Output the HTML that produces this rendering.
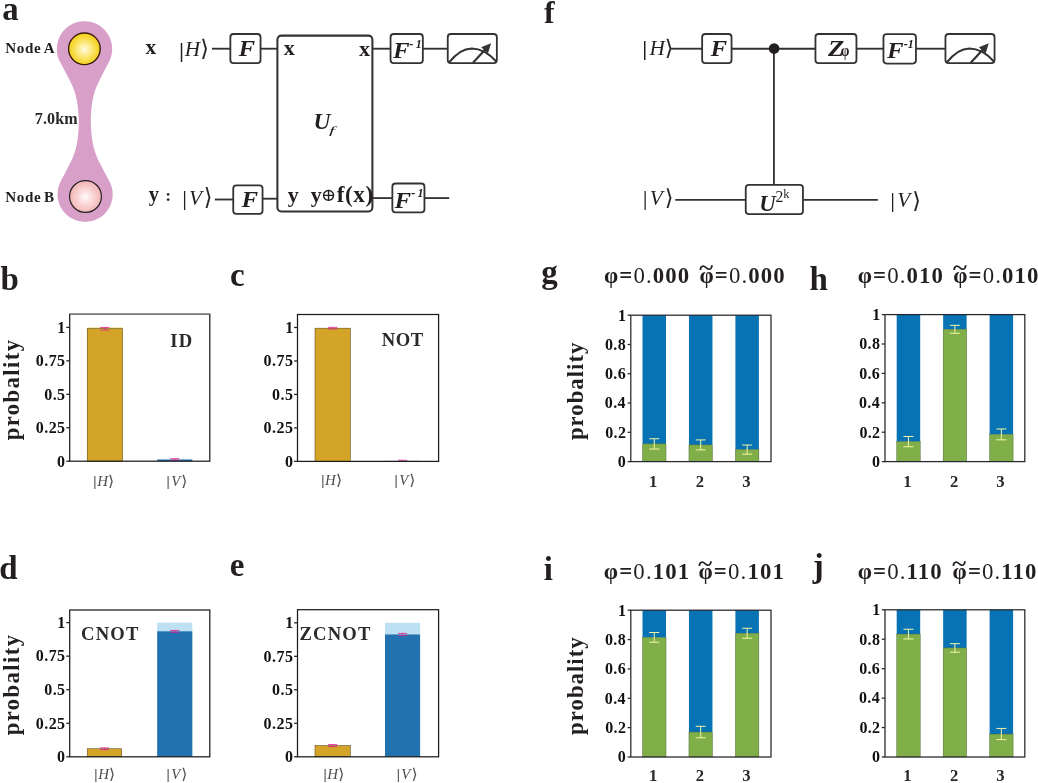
<!DOCTYPE html>
<html lang="en">
<head>
<meta charset="utf-8">
<title>Figure</title>
<style>
html,body{margin:0;padding:0;background:#fff;}
body{width:1038px;height:783px;overflow:hidden;}
svg{display:block;}
svg text{font-family:"Liberation Serif", "DejaVu Serif", serif;}
</style>
</head>
<body>
<svg width="1038" height="783" viewBox="0 0 1038 783">
<rect width="1038" height="783" fill="#fff"/>
<g id="panel-a">
<text font-size="32.8" font-weight="bold" x="2.34" y="19.6" fill="#231f20">a</text>
<defs><radialGradient id="gy" cx="0.5" cy="0.52" r="0.5"><stop offset="0" stop-color="#fffbe2"/><stop offset="0.35" stop-color="#fdee94"/><stop offset="0.8" stop-color="#f7d936"/><stop offset="1" stop-color="#f3cf22"/></radialGradient><radialGradient id="gp" cx="0.5" cy="0.52" r="0.5"><stop offset="0" stop-color="#fffafa"/><stop offset="0.4" stop-color="#fbdcdc"/><stop offset="1" stop-color="#f3b4b6"/></radialGradient></defs>
<path d="M59.1,60.0 A27.7,27.7 0 1 1 109.9,60.0 C109.6,60.7 108.7,62.5 108.0,64.0 C107.2,65.5 106.5,66.6 105.3,68.9 C104.1,71.2 102.2,74.9 100.7,77.9 C99.2,80.9 97.7,83.8 96.5,86.8 C95.3,89.8 94.4,92.7 93.6,95.7 C92.8,98.7 92.3,101.7 91.9,104.7 C91.5,107.7 91.3,110.8 91.1,113.6 C90.9,116.4 90.8,119.0 90.8,121.8 C90.8,124.5 91.0,127.1 91.2,129.9 C91.4,132.7 91.6,135.8 92.1,138.8 C92.5,141.8 93.0,144.8 93.8,147.8 C94.6,150.8 95.6,153.7 96.8,156.7 C98.0,159.7 99.6,162.6 101.1,165.6 C102.6,168.6 104.5,172.3 105.8,174.6 C107.0,176.9 107.7,178.0 108.4,179.5 C109.2,181.0 110.1,182.8 110.5,183.5 A27.6,27.6 0 1 1 59.7,183.5 C60.0,182.8 60.9,181.0 61.6,179.5 C62.4,178.0 63.1,176.9 64.3,174.6 C65.5,172.3 67.4,168.6 68.9,165.6 C70.4,162.6 71.9,159.7 73.1,156.7 C74.3,153.7 75.2,150.8 76.0,147.8 C76.8,144.8 77.3,141.8 77.7,138.8 C78.1,135.8 78.3,132.7 78.5,129.9 C78.7,127.1 78.8,124.5 78.8,121.8 C78.8,119.0 78.6,116.4 78.4,113.6 C78.2,110.8 78.0,107.7 77.5,104.7 C77.1,101.7 76.6,98.7 75.8,95.7 C75.0,92.7 74.0,89.8 72.8,86.8 C71.6,83.8 70.0,80.9 68.5,77.9 C67.0,74.9 65.1,71.2 63.8,68.9 C62.6,66.6 61.9,65.5 61.2,64.0 C60.4,62.5 59.5,60.7 59.1,60.0 Z" fill="#d8a0c8"/>
<circle cx="84.4" cy="48.8" r="15.8" fill="url(#gy)" stroke="#3a1d0a" stroke-width="1.4"/>
<circle cx="85.5" cy="196.5" r="15.9" fill="url(#gp)" stroke="#231f20" stroke-width="1.2"/>
<text font-size="15.1" font-weight="bold" x="5.21" y="53.3" fill="#231f20"><tspan letter-spacing="0.64">Node </tspan><tspan x="43.75">A</tspan></text>
<text font-size="15.1" font-weight="bold" x="5.21" y="202.1" fill="#231f20"><tspan letter-spacing="0.64">Node </tspan><tspan x="43.95">B</tspan></text>
<text font-size="16" font-weight="bold" letter-spacing="0.14" x="34.79" y="123.8" fill="#2a2627">7.0km</text>
<text font-size="21.3" font-weight="bold" x="145.42" y="53.5" fill="#231f20">x</text>
<text font-size="20.5" font-weight="bold" x="148.7" y="200.5" fill="#231f20">y</text>
<text font-size="17.5" font-weight="bold" x="165.16" y="201.2" fill="#231f20">:</text>
<g>
<text font-size="21.99" font-weight="normal" transform="translate(178.44,57.05) scale(1.37,1)" fill="#231f20">|</text>
<text font-size="21.3" font-weight="normal" font-style="italic" x="184.63" y="56.4" fill="#231f20">H</text>
<text font-size="22.51" font-weight="normal" font-family='"DejaVu Math TeX Gyre", "DejaVu Serif", serif' stroke="#231f20" stroke-width="0.15" transform="translate(200.58,55.79) scale(0.94,1)" fill="#231f20">⟩</text>
</g>
<g>
<text font-size="21.55" font-weight="normal" transform="translate(182.04,204.65) scale(1.21,1)" fill="#231f20">|</text>
<text font-size="21.3" font-weight="normal" font-style="italic" x="189.09" y="204.7" fill="#231f20">V</text>
<text font-size="23.58" font-weight="normal" font-family='"DejaVu Math TeX Gyre", "DejaVu Serif", serif' stroke="#231f20" stroke-width="0.15" transform="translate(203.88,205.23) scale(0.89,1)" fill="#231f20">⟩</text>
</g>
<line x1="211.9" y1="48.7" x2="230" y2="48.7" stroke="#333132" stroke-width="1.85"/>
<line x1="261" y1="48.7" x2="278" y2="48.7" stroke="#333132" stroke-width="1.85"/>
<line x1="372" y1="48.7" x2="390.5" y2="48.7" stroke="#333132" stroke-width="1.85"/>
<line x1="423" y1="48.7" x2="447.5" y2="48.7" stroke="#333132" stroke-width="1.85"/>
<line x1="214.8" y1="199.5" x2="233" y2="199.5" stroke="#333132" stroke-width="1.85"/>
<line x1="263" y1="198.7" x2="278" y2="198.7" stroke="#333132" stroke-width="1.85"/>
<line x1="372.5" y1="198.1" x2="392" y2="198.1" stroke="#333132" stroke-width="1.85"/>
<line x1="424.5" y1="198.1" x2="449.2" y2="198.1" stroke="#333132" stroke-width="1.85"/>
<rect x="230.35" y="34" width="30.2" height="29.15" rx="3.2" ry="3.2" fill="#fff" stroke="#333132" stroke-width="1.8"/>
<text font-size="22.2" font-weight="bold" font-style="italic" transform="translate(238.62,56) scale(1.12,1)" fill="#231f20">F</text>
<rect x="233.25" y="185.4" width="29.3" height="28.55" rx="3.2" ry="3.2" fill="#fff" stroke="#333132" stroke-width="1.8"/>
<text font-size="22.2" font-weight="bold" font-style="italic" transform="translate(241.42,206.8) scale(1.12,1)" fill="#231f20">F</text>
<rect x="277.4" y="35.6" width="95.0" height="175.9" rx="4" ry="4" fill="#fff" stroke="#333132" stroke-width="2.05"/>
<rect x="390.55" y="34" width="32.3" height="29.15" rx="3.2" ry="3.2" fill="#fff" stroke="#333132" stroke-width="1.8"/>
<text font-size="22.2" font-weight="bold" font-style="italic" transform="translate(393.12,57.5) scale(1.12,1)" fill="#231f20">F</text>
<text font-size="12" font-weight="bold" font-style="italic" letter-spacing="2.47" x="409.35" y="47.6" fill="#231f20">-1</text>
<rect x="392.35" y="183.5" width="32.1" height="28.95" rx="3.2" ry="3.2" fill="#fff" stroke="#333132" stroke-width="1.8"/>
<text font-size="22.2" font-weight="bold" font-style="italic" transform="translate(394.52,207.8) scale(1.12,1)" fill="#231f20">F</text>
<text font-size="12" font-weight="bold" font-style="italic" letter-spacing="2.47" x="411.15" y="197.4" fill="#231f20">-1</text>
<g>
<rect x="447.75" y="34" width="49.1" height="29.15" rx="3.2" ry="3.2" fill="#fff" stroke="#333132" stroke-width="1.8"/>
<path d="M449,62.7 Q459.73,48.66 471.75,48.5 Q484.77,48.66 496.5,61.7" fill="none" stroke="#333132" stroke-width="2.1"/>
<line x1="473" y1="62.7" x2="485.25" y2="49.54" stroke="#333132" stroke-width="2.1"/>
<polygon points="491.04,43.32 487.93,53.41 481.2,47.14" fill="#333132"/>
</g>
<text font-size="22" font-weight="bold" x="283.81" y="55.1" fill="#231f20">x</text>
<text font-size="22" font-weight="bold" x="359.11" y="55.9" fill="#231f20">x</text>
<text font-size="22" font-weight="bold" x="287.79" y="202" fill="#231f20">y</text>
<text font-size="22" font-weight="bold" x="310.79" y="202" fill="#231f20">y</text>
<text font-size="18.08" font-weight="normal" font-family='"DejaVu Math TeX Gyre", "DejaVu Serif", serif' transform="translate(321.05,200.62) scale(1,1)" fill="#231f20">⊕</text>
<text font-size="23.2" font-weight="bold" letter-spacing="0.6" x="336.73" y="202.1" fill="#231f20">f(x)</text>
<text font-size="23.04" font-weight="bold" font-style="italic" transform="translate(313.38,129.09) scale(1.02,1)" fill="#231f20">U</text>
<text font-size="11.34" font-weight="normal" font-style="italic" transform="translate(328.96,133.69) scale(1.85,1)" fill="#231f20">f</text>
</g>
<g id="panel-f">
<text font-size="31.8" font-weight="bold" x="543.97" y="22.6" fill="#231f20">f</text>
<g>
<text font-size="21.44" font-weight="normal" transform="translate(641.84,54.77) scale(1.4,1)" fill="#231f20">|</text>
<text font-size="21.3" font-weight="normal" font-style="italic" x="649.53" y="54.7" fill="#231f20">H</text>
<text font-size="21.45" font-weight="normal" font-family='"DejaVu Math TeX Gyre", "DejaVu Serif", serif' stroke="#231f20" stroke-width="0.15" transform="translate(664.88,55.25) scale(0.98,1)" fill="#231f20">⟩</text>
</g>
<g>
<text font-size="21.99" font-weight="normal" transform="translate(642.44,205.05) scale(1.19,1)" fill="#231f20">|</text>
<text font-size="21.3" font-weight="normal" font-style="italic" x="649.69" y="205" fill="#231f20">V</text>
<text font-size="22.16" font-weight="normal" font-family='"DejaVu Math TeX Gyre", "DejaVu Serif", serif' stroke="#231f20" stroke-width="0.15" transform="translate(664.88,205.44) scale(0.95,1)" fill="#231f20">⟩</text>
</g>
<g>
<text font-size="21.77" font-weight="normal" transform="translate(890.04,206.9) scale(1.2,1)" fill="#231f20">|</text>
<text font-size="21.3" font-weight="normal" font-style="italic" x="897.29" y="207" fill="#231f20">V</text>
<text font-size="22.27" font-weight="normal" font-family='"DejaVu Math TeX Gyre", "DejaVu Serif", serif' stroke="#231f20" stroke-width="0.15" transform="translate(912.38,207.63) scale(0.95,1)" fill="#231f20">⟩</text>
</g>
<line x1="670.3" y1="48.7" x2="702" y2="48.7" stroke="#333132" stroke-width="1.85"/>
<line x1="732" y1="48.7" x2="815" y2="48.7" stroke="#333132" stroke-width="1.85"/>
<line x1="856.9" y1="48.7" x2="883.5" y2="48.7" stroke="#333132" stroke-width="1.85"/>
<line x1="916.4" y1="48.7" x2="945" y2="48.7" stroke="#333132" stroke-width="1.85"/>
<line x1="773.9" y1="48.2" x2="773.9" y2="185" stroke="#333132" stroke-width="1.85"/>
<line x1="675.3" y1="199.9" x2="745.5" y2="199.9" stroke="#333132" stroke-width="1.85"/>
<line x1="803.4" y1="199.9" x2="877.9" y2="199.9" stroke="#333132" stroke-width="1.85"/>
<circle cx="774.1" cy="48.6" r="5.3" fill="#231f20"/>
<rect x="702.15" y="34" width="29.4" height="29.15" rx="3.2" ry="3.2" fill="#fff" stroke="#333132" stroke-width="1.8"/>
<text font-size="22.2" font-weight="bold" font-style="italic" transform="translate(710.42,56) scale(1.12,1)" fill="#231f20">F</text>
<rect x="815.45" y="34" width="41" height="29.15" rx="3.2" ry="3.2" fill="#fff" stroke="#333132" stroke-width="1.8"/>
<text font-size="22.76" font-weight="bold" font-style="italic" transform="translate(827.97,55.9) scale(1.17,1)" fill="#231f20">Z</text>
<text font-size="17.09" font-weight="bold" transform="translate(840.8,55.86) scale(0.81,1)" fill="#231f20">φ</text>
<rect x="883.45" y="34.1" width="32.5" height="29.45" rx="3.2" ry="3.2" fill="#fff" stroke="#333132" stroke-width="1.8"/>
<text font-size="22.2" font-weight="bold" font-style="italic" transform="translate(887.02,57.5) scale(1.12,1)" fill="#231f20">F</text>
<text font-size="12" font-weight="bold" font-style="italic" letter-spacing="0.07" x="903.75" y="47.6" fill="#231f20">-1</text>
<g>
<rect x="945.45" y="34" width="49.1" height="29.15" rx="3.2" ry="3.2" fill="#fff" stroke="#333132" stroke-width="1.8"/>
<path d="M946.7,62.7 Q957.42,48.66 969.45,48.5 Q982.48,48.66 994.2,61.7" fill="none" stroke="#333132" stroke-width="2.1"/>
<line x1="970.7" y1="62.7" x2="982.95" y2="49.54" stroke="#333132" stroke-width="2.1"/>
<polygon points="988.74,43.32 985.63,53.41 978.9,47.14" fill="#333132"/>
</g>
<rect x="745.75" y="184.9" width="57.2" height="29.25" rx="3.2" ry="3.2" fill="#fff" stroke="#333132" stroke-width="1.8"/>
<text font-size="22.8" font-weight="bold" font-style="italic" x="759.14" y="211.3" fill="#231f20">U</text>
<text font-size="15.7" font-weight="normal" x="775.51" y="201.9" fill="#231f20">2</text>
<text font-size="12.4" font-weight="normal" x="783.16" y="198.2" fill="#231f20">k</text>
</g>
<g id="panel-b">
<text font-size="33" font-weight="bold" x="0.38" y="289.5" fill="#231f20">b</text>
<g>
<rect x="87.2" y="327.4" width="35.3" height="133.8" fill="#f1d68c"/>
<rect x="87.2" y="328.74" width="35.3" height="132.46" fill="#d4a428" stroke="#4a3a10" stroke-width="0.5"/>
<path d="M100.25,327.44H109.45M100.25,330.04H109.45M104.85,327.44V330.04" stroke="#e01e8c" stroke-width="0.8" fill="none"/>
<rect x="157.2" y="459.46" width="35.1" height="1.74" fill="#2372b0"/>
<path d="M170.15,458.66H179.35M170.15,460.26H179.35M174.75,458.66V460.26" stroke="#e01e8c" stroke-width="0.8" fill="none"/>
<rect x="69.7" y="314.3" width="140.1" height="146.9" fill="none" stroke="#1c1c1c" stroke-width="1.25"/>
<line x1="70.3" y1="314.3" x2="209.2" y2="314.3" stroke="#7a7a7a" stroke-width="1.5"/>
<line x1="66.3" y1="327.4" x2="69.7" y2="327.4" stroke="#1c1c1c" stroke-width="1.25"/>
<text font-size="16" font-weight="bold" x="57.33" y="332.7" fill="#111">1</text>
<line x1="66.3" y1="360.85" x2="69.7" y2="360.85" stroke="#1c1c1c" stroke-width="1.25"/>
<text font-size="16" font-weight="bold" letter-spacing="0.45" x="35.74" y="366.15" fill="#111">0.75</text>
<line x1="66.3" y1="394.3" x2="69.7" y2="394.3" stroke="#1c1c1c" stroke-width="1.25"/>
<text font-size="16" font-weight="bold" letter-spacing="0.45" x="44.19" y="399.6" fill="#111">0.5</text>
<line x1="66.3" y1="427.75" x2="69.7" y2="427.75" stroke="#1c1c1c" stroke-width="1.25"/>
<text font-size="16" font-weight="bold" letter-spacing="0.45" x="35.74" y="433.05" fill="#111">0.25</text>
<line x1="66.3" y1="461.2" x2="69.7" y2="461.2" stroke="#1c1c1c" stroke-width="1.25"/>
<text font-size="16" font-weight="bold" x="57.11" y="466.5" fill="#111">0</text>
<text font-size="18.6" font-weight="bold" letter-spacing="1.26" x="170.37" y="346.7" fill="#2e2a2b">ID</text>
<text transform="translate(18.8,440.29) rotate(-90)" font-size="22.6" font-weight="bold" letter-spacing="1.44" fill="#231f20">probality</text>
<g>
<text font-size="15.39" font-weight="normal" transform="translate(92.81,486.26) scale(1.37,1)" fill="#4c4c4e">|</text>
<text font-size="14.91" font-weight="normal" font-style="italic" x="97.15" y="485.8" fill="#4c4c4e">H</text>
<text font-size="14.68" font-weight="normal" font-family='"DejaVu Math TeX Gyre", "DejaVu Serif", serif' stroke="#4c4c4e" stroke-width="0.1" transform="translate(108.32,485.67) scale(1,1)" fill="#4c4c4e">⟩</text>
</g>
<g>
<text font-size="15.39" font-weight="normal" transform="translate(166.11,486.26) scale(1.37,1)" fill="#4c4c4e">|</text>
<text font-size="14.91" font-weight="normal" font-style="italic" x="171.26" y="485.8" fill="#4c4c4e">V</text>
<text font-size="14.68" font-weight="normal" font-family='"DejaVu Math TeX Gyre", "DejaVu Serif", serif' stroke="#4c4c4e" stroke-width="0.1" transform="translate(181.62,485.67) scale(1,1)" fill="#4c4c4e">⟩</text>
</g>
</g>
</g><g id="panel-c">
<text font-size="33" font-weight="bold" x="230.07" y="285.8" fill="#231f20">c</text>
<g>
<rect x="315" y="328.17" width="35.3" height="133.23" fill="#d4a428" stroke="#4a3a10" stroke-width="0.5"/>
<path d="M328.05,327.37H337.25M328.05,328.97H337.25M332.65,327.37V328.97" stroke="#e01e8c" stroke-width="0.8" fill="none"/>
<rect x="385" y="460.86" width="35.1" height="0.54" fill="#2372b0"/>
<path d="M397.95,460.26H407.15M397.95,461.46H407.15M402.55,460.26V461.46" stroke="#e01e8c" stroke-width="0.8" fill="none"/>
<rect x="297.5" y="314.5" width="141.1" height="146.9" fill="none" stroke="#1c1c1c" stroke-width="1.25"/>
<line x1="294.1" y1="327.5" x2="297.5" y2="327.5" stroke="#1c1c1c" stroke-width="1.25"/>
<text font-size="16" font-weight="bold" x="285.13" y="332.8" fill="#111">1</text>
<line x1="294.1" y1="360.98" x2="297.5" y2="360.98" stroke="#1c1c1c" stroke-width="1.25"/>
<text font-size="16" font-weight="bold" letter-spacing="0.45" x="263.54" y="366.28" fill="#111">0.75</text>
<line x1="294.1" y1="394.45" x2="297.5" y2="394.45" stroke="#1c1c1c" stroke-width="1.25"/>
<text font-size="16" font-weight="bold" letter-spacing="0.45" x="271.99" y="399.75" fill="#111">0.5</text>
<line x1="294.1" y1="427.92" x2="297.5" y2="427.92" stroke="#1c1c1c" stroke-width="1.25"/>
<text font-size="16" font-weight="bold" letter-spacing="0.45" x="263.54" y="433.22" fill="#111">0.25</text>
<line x1="294.1" y1="461.4" x2="297.5" y2="461.4" stroke="#1c1c1c" stroke-width="1.25"/>
<text font-size="16" font-weight="bold" x="284.91" y="466.7" fill="#111">0</text>
<text font-size="18.6" font-weight="bold" letter-spacing="0.56" x="381.65" y="345.6" fill="#2e2a2b">NOT</text>
<g>
<text font-size="15.39" font-weight="normal" transform="translate(320.71,485.46) scale(1.37,1)" fill="#4c4c4e">|</text>
<text font-size="14.91" font-weight="normal" font-style="italic" x="325.05" y="485" fill="#4c4c4e">H</text>
<text font-size="14.68" font-weight="normal" font-family='"DejaVu Math TeX Gyre", "DejaVu Serif", serif' stroke="#4c4c4e" stroke-width="0.1" transform="translate(336.22,484.87) scale(1,1)" fill="#4c4c4e">⟩</text>
</g>
<g>
<text font-size="15.39" font-weight="normal" transform="translate(394.01,485.46) scale(1.37,1)" fill="#4c4c4e">|</text>
<text font-size="14.91" font-weight="normal" font-style="italic" x="399.16" y="485" fill="#4c4c4e">V</text>
<text font-size="14.68" font-weight="normal" font-family='"DejaVu Math TeX Gyre", "DejaVu Serif", serif' stroke="#4c4c4e" stroke-width="0.1" transform="translate(409.52,484.87) scale(1,1)" fill="#4c4c4e">⟩</text>
</g>
</g>
</g><g id="panel-d">
<text font-size="33" font-weight="bold" x="-0.84" y="579.3" fill="#231f20">d</text>
<g>
<rect x="87.2" y="748.75" width="34.5" height="8.05" fill="#d4a428" stroke="#4a3a10" stroke-width="0.5"/>
<path d="M99.85,747.85H109.05M99.85,749.65H109.05M104.45,747.85V749.65" stroke="#e01e8c" stroke-width="0.8" fill="none"/>
<rect x="157.2" y="622.6" width="35.1" height="134.2" fill="#bde0f2"/>
<rect x="157.2" y="631.32" width="35.1" height="125.48" fill="#2372b0"/>
<path d="M170.15,630.42H179.35M170.15,632.22H179.35M174.75,630.42V632.22" stroke="#e01e8c" stroke-width="0.8" fill="none"/>
<rect x="69.7" y="610" width="140.1" height="146.8" fill="none" stroke="#1c1c1c" stroke-width="1.25"/>
<line x1="66.3" y1="622.6" x2="69.7" y2="622.6" stroke="#1c1c1c" stroke-width="1.25"/>
<text font-size="16" font-weight="bold" x="57.33" y="627.9" fill="#111">1</text>
<line x1="66.3" y1="656.15" x2="69.7" y2="656.15" stroke="#1c1c1c" stroke-width="1.25"/>
<text font-size="16" font-weight="bold" letter-spacing="0.45" x="35.74" y="661.45" fill="#111">0.75</text>
<line x1="66.3" y1="689.7" x2="69.7" y2="689.7" stroke="#1c1c1c" stroke-width="1.25"/>
<text font-size="16" font-weight="bold" letter-spacing="0.45" x="44.19" y="695" fill="#111">0.5</text>
<line x1="66.3" y1="723.25" x2="69.7" y2="723.25" stroke="#1c1c1c" stroke-width="1.25"/>
<text font-size="16" font-weight="bold" letter-spacing="0.45" x="35.74" y="728.55" fill="#111">0.25</text>
<line x1="66.3" y1="756.8" x2="69.7" y2="756.8" stroke="#1c1c1c" stroke-width="1.25"/>
<text font-size="16" font-weight="bold" x="57.11" y="762.1" fill="#111">0</text>
<text font-size="18.6" font-weight="bold" letter-spacing="1.22" x="81.09" y="640" fill="#2e2a2b">CNOT</text>
<text transform="translate(18.8,735.29) rotate(-90)" font-size="22.6" font-weight="bold" letter-spacing="1.44" fill="#231f20">probality</text>
<g>
<text font-size="15.39" font-weight="normal" transform="translate(93.81,779.36) scale(1.37,1)" fill="#4c4c4e">|</text>
<text font-size="14.91" font-weight="normal" font-style="italic" x="98.15" y="778.9" fill="#4c4c4e">H</text>
<text font-size="14.68" font-weight="normal" font-family='"DejaVu Math TeX Gyre", "DejaVu Serif", serif' stroke="#4c4c4e" stroke-width="0.1" transform="translate(109.32,778.77) scale(1,1)" fill="#4c4c4e">⟩</text>
</g>
<g>
<text font-size="15.39" font-weight="normal" transform="translate(166.11,779.36) scale(1.37,1)" fill="#4c4c4e">|</text>
<text font-size="14.91" font-weight="normal" font-style="italic" x="171.26" y="778.9" fill="#4c4c4e">V</text>
<text font-size="14.68" font-weight="normal" font-family='"DejaVu Math TeX Gyre", "DejaVu Serif", serif' stroke="#4c4c4e" stroke-width="0.1" transform="translate(181.62,778.77) scale(1,1)" fill="#4c4c4e">⟩</text>
</g>
</g>
</g><g id="panel-e">
<text font-size="33" font-weight="bold" x="229.87" y="576.4" fill="#231f20">e</text>
<g>
<rect x="315" y="745.54" width="35.3" height="11.26" fill="#d4a428" stroke="#4a3a10" stroke-width="0.5"/>
<path d="M328.05,744.54H337.25M328.05,746.54H337.25M332.65,744.54V746.54" stroke="#e01e8c" stroke-width="0.8" fill="none"/>
<rect x="385" y="622.8" width="35.1" height="134" fill="#bde0f2"/>
<rect x="385" y="634.46" width="35.1" height="122.34" fill="#2372b0"/>
<path d="M397.95,633.36H407.15M397.95,635.56H407.15M402.55,633.36V635.56" stroke="#e01e8c" stroke-width="0.8" fill="none"/>
<rect x="297.5" y="609.7" width="141.1" height="147.1" fill="none" stroke="#1c1c1c" stroke-width="1.25"/>
<line x1="294.1" y1="622.8" x2="297.5" y2="622.8" stroke="#1c1c1c" stroke-width="1.25"/>
<text font-size="16" font-weight="bold" x="285.13" y="628.1" fill="#111">1</text>
<line x1="294.1" y1="656.3" x2="297.5" y2="656.3" stroke="#1c1c1c" stroke-width="1.25"/>
<text font-size="16" font-weight="bold" letter-spacing="0.45" x="263.54" y="661.6" fill="#111">0.75</text>
<line x1="294.1" y1="689.8" x2="297.5" y2="689.8" stroke="#1c1c1c" stroke-width="1.25"/>
<text font-size="16" font-weight="bold" letter-spacing="0.45" x="271.99" y="695.1" fill="#111">0.5</text>
<line x1="294.1" y1="723.3" x2="297.5" y2="723.3" stroke="#1c1c1c" stroke-width="1.25"/>
<text font-size="16" font-weight="bold" letter-spacing="0.45" x="263.54" y="728.6" fill="#111">0.25</text>
<line x1="294.1" y1="756.8" x2="297.5" y2="756.8" stroke="#1c1c1c" stroke-width="1.25"/>
<text font-size="16" font-weight="bold" x="284.91" y="762.1" fill="#111">0</text>
<text font-size="18.6" font-weight="bold" letter-spacing="1.23" x="299.41" y="639.8" fill="#2e2a2b">ZCNOT</text>
<g>
<text font-size="15.39" font-weight="normal" transform="translate(323.01,779.36) scale(1.37,1)" fill="#4c4c4e">|</text>
<text font-size="14.91" font-weight="normal" font-style="italic" x="327.35" y="778.9" fill="#4c4c4e">H</text>
<text font-size="14.68" font-weight="normal" font-family='"DejaVu Math TeX Gyre", "DejaVu Serif", serif' stroke="#4c4c4e" stroke-width="0.1" transform="translate(338.52,778.77) scale(1,1)" fill="#4c4c4e">⟩</text>
</g>
<g>
<text font-size="15.39" font-weight="normal" transform="translate(396.21,779.36) scale(1.37,1)" fill="#4c4c4e">|</text>
<text font-size="14.91" font-weight="normal" font-style="italic" x="401.36" y="778.9" fill="#4c4c4e">V</text>
<text font-size="14.68" font-weight="normal" font-family='"DejaVu Math TeX Gyre", "DejaVu Serif", serif' stroke="#4c4c4e" stroke-width="0.1" transform="translate(411.72,778.77) scale(1,1)" fill="#4c4c4e">⟩</text>
</g>
</g>
</g>
<g id="panel-g">
<text font-size="33" font-weight="bold" x="541.13" y="283.2" fill="#231f20">g</text>
<g>
<rect x="642.5" y="315.2" width="23.5" height="128.69" fill="#0873b4"/>
<rect x="642.5" y="443.89" width="23.5" height="17.71" fill="#80af4a" stroke="#3d5a2a" stroke-width="0.4"/>
<path d="M649.25,438.76H659.25M649.25,449.01H659.25M654.25,438.76V449.01" stroke="#f3f6a8" stroke-width="1" fill="none"/>
<text font-size="16.6" font-weight="bold" x="649.06" y="486.5" fill="#2a2a2a">1</text>
<rect x="688.95" y="315.2" width="23.5" height="129.71" fill="#0873b4"/>
<rect x="688.95" y="444.91" width="23.5" height="16.69" fill="#80af4a" stroke="#3d5a2a" stroke-width="0.4"/>
<path d="M695.7,439.93H705.7M695.7,449.89H705.7M700.7,439.93V449.89" stroke="#f3f6a8" stroke-width="1" fill="none"/>
<text font-size="16.6" font-weight="bold" x="695.76" y="486.5" fill="#2a2a2a">2</text>
<rect x="735.4" y="315.2" width="23.5" height="134.4" fill="#0873b4"/>
<rect x="735.4" y="449.6" width="23.5" height="12" fill="#80af4a" stroke="#3d5a2a" stroke-width="0.4"/>
<path d="M742.15,445.06H752.15M742.15,454.13H752.15M747.15,445.06V454.13" stroke="#f3f6a8" stroke-width="1" fill="none"/>
<text font-size="16.6" font-weight="bold" x="742.17" y="486.5" fill="#2a2a2a">3</text>
<rect x="630.8" y="315.2" width="140.2" height="146.4" fill="none" stroke="#26262c" stroke-width="1.25"/>
<line x1="627.6" y1="315.2" x2="630.8" y2="315.2" stroke="#26262c" stroke-width="1.25"/>
<text font-size="16" font-weight="bold" x="618.03" y="320.5" fill="#111">1</text>
<line x1="627.6" y1="344.48" x2="630.8" y2="344.48" stroke="#26262c" stroke-width="1.25"/>
<text font-size="16" font-weight="bold" letter-spacing="0.35" x="605.03" y="349.78" fill="#111">0.8</text>
<line x1="627.6" y1="373.76" x2="630.8" y2="373.76" stroke="#26262c" stroke-width="1.25"/>
<text font-size="16" font-weight="bold" letter-spacing="0.35" x="604.97" y="379.06" fill="#111">0.6</text>
<line x1="627.6" y1="403.04" x2="630.8" y2="403.04" stroke="#26262c" stroke-width="1.25"/>
<text font-size="16" font-weight="bold" letter-spacing="0.35" x="604.8" y="408.34" fill="#111">0.4</text>
<line x1="627.6" y1="432.32" x2="630.8" y2="432.32" stroke="#26262c" stroke-width="1.25"/>
<text font-size="16" font-weight="bold" letter-spacing="0.35" x="605.19" y="437.62" fill="#111">0.2</text>
<line x1="627.6" y1="461.6" x2="630.8" y2="461.6" stroke="#26262c" stroke-width="1.25"/>
<text font-size="16" font-weight="bold" x="617.81" y="466.9" fill="#111">0</text>
<text transform="translate(583.2,440.09) rotate(-90)" font-size="22.8" font-weight="bold" letter-spacing="1" fill="#231f20">probality</text>
<text x="603.99" y="283" font-size="22.8" font-weight="bold" fill="#231f20" letter-spacing="1.11">φ=<tspan font-weight="normal">0.</tspan>000</text>
<text x="699.49" y="283" font-size="22.8" font-weight="bold" fill="#231f20" letter-spacing="1.11">φ=<tspan font-weight="normal">0.</tspan>000</text>
<text font-size="22.34" font-weight="bold" transform="translate(699.19,275.45) scale(1.19,1)" fill="#231f20">~</text>
</g>
</g><g id="panel-h">
<text font-size="33" font-weight="bold" x="809.58" y="290.2" fill="#231f20">h</text>
<g>
<rect x="896.7" y="314.6" width="23.5" height="127.01" fill="#0873b4"/>
<rect x="896.7" y="441.61" width="23.5" height="19.99" fill="#80af4a" stroke="#3d5a2a" stroke-width="0.4"/>
<path d="M903.45,436.46H913.45M903.45,446.75H913.45M908.45,436.46V446.75" stroke="#f3f6a8" stroke-width="1" fill="none"/>
<text font-size="16.6" font-weight="bold" x="903.26" y="486.5" fill="#2a2a2a">1</text>
<rect x="943.15" y="314.6" width="23.5" height="14.7" fill="#0873b4"/>
<rect x="943.15" y="329.3" width="23.5" height="132.3" fill="#80af4a" stroke="#3d5a2a" stroke-width="0.4"/>
<path d="M949.9,325.33H959.9M949.9,333.27H959.9M954.9,325.33V333.27" stroke="#f3f6a8" stroke-width="1" fill="none"/>
<text font-size="16.6" font-weight="bold" x="949.96" y="486.5" fill="#2a2a2a">2</text>
<rect x="989.6" y="314.6" width="23.5" height="119.81" fill="#0873b4"/>
<rect x="989.6" y="434.41" width="23.5" height="27.19" fill="#80af4a" stroke="#3d5a2a" stroke-width="0.4"/>
<path d="M996.35,428.97H1006.35M996.35,439.84H1006.35M1001.35,428.97V439.84" stroke="#f3f6a8" stroke-width="1" fill="none"/>
<text font-size="16.6" font-weight="bold" x="996.37" y="486.5" fill="#2a2a2a">3</text>
<rect x="885" y="314.6" width="139.8" height="147" fill="none" stroke="#26262c" stroke-width="1.25"/>
<line x1="881.8" y1="314.6" x2="885" y2="314.6" stroke="#26262c" stroke-width="1.25"/>
<text font-size="16" font-weight="bold" x="872.23" y="319.9" fill="#111">1</text>
<line x1="881.8" y1="344" x2="885" y2="344" stroke="#26262c" stroke-width="1.25"/>
<text font-size="16" font-weight="bold" letter-spacing="0.35" x="859.23" y="349.3" fill="#111">0.8</text>
<line x1="881.8" y1="373.4" x2="885" y2="373.4" stroke="#26262c" stroke-width="1.25"/>
<text font-size="16" font-weight="bold" letter-spacing="0.35" x="859.17" y="378.7" fill="#111">0.6</text>
<line x1="881.8" y1="402.8" x2="885" y2="402.8" stroke="#26262c" stroke-width="1.25"/>
<text font-size="16" font-weight="bold" letter-spacing="0.35" x="859" y="408.1" fill="#111">0.4</text>
<line x1="881.8" y1="432.2" x2="885" y2="432.2" stroke="#26262c" stroke-width="1.25"/>
<text font-size="16" font-weight="bold" letter-spacing="0.35" x="859.39" y="437.5" fill="#111">0.2</text>
<line x1="881.8" y1="461.6" x2="885" y2="461.6" stroke="#26262c" stroke-width="1.25"/>
<text font-size="16" font-weight="bold" x="872.01" y="466.9" fill="#111">0</text>
<text x="857.79" y="282.7" font-size="22.8" font-weight="bold" fill="#231f20" letter-spacing="1.11">φ=<tspan font-weight="normal">0.</tspan>010</text>
<text x="953.19" y="282.7" font-size="22.8" font-weight="bold" fill="#231f20" letter-spacing="1.11">φ=<tspan font-weight="normal">0.</tspan>010</text>
<text font-size="22.34" font-weight="bold" transform="translate(952.89,275.15) scale(1.19,1)" fill="#231f20">~</text>
</g>
</g><g id="panel-i">
<text font-size="33" font-weight="bold" x="543.77" y="579.6" fill="#231f20">i</text>
<g>
<rect x="642.5" y="610.2" width="23.5" height="27.16" fill="#0873b4"/>
<rect x="642.5" y="637.36" width="23.5" height="119.64" fill="#80af4a" stroke="#3d5a2a" stroke-width="0.4"/>
<path d="M649.25,632.51H659.25M649.25,642.2H659.25M654.25,632.51V642.2" stroke="#f3f6a8" stroke-width="1" fill="none"/>
<text font-size="16.6" font-weight="bold" x="649.06" y="781.4" fill="#2a2a2a">1</text>
<rect x="688.95" y="610.2" width="23.5" height="121.84" fill="#0873b4"/>
<rect x="688.95" y="732.04" width="23.5" height="24.96" fill="#80af4a" stroke="#3d5a2a" stroke-width="0.4"/>
<path d="M695.7,726.32H705.7M695.7,737.77H705.7M700.7,726.32V737.77" stroke="#f3f6a8" stroke-width="1" fill="none"/>
<text font-size="16.6" font-weight="bold" x="695.76" y="781.4" fill="#2a2a2a">2</text>
<rect x="735.4" y="610.2" width="23.5" height="23.05" fill="#0873b4"/>
<rect x="735.4" y="633.25" width="23.5" height="123.75" fill="#80af4a" stroke="#3d5a2a" stroke-width="0.4"/>
<path d="M742.15,628.26H752.15M742.15,638.24H752.15M747.15,628.26V638.24" stroke="#f3f6a8" stroke-width="1" fill="none"/>
<text font-size="16.6" font-weight="bold" x="742.17" y="781.4" fill="#2a2a2a">3</text>
<rect x="630.8" y="610.2" width="140.2" height="146.8" fill="none" stroke="#26262c" stroke-width="1.25"/>
<line x1="627.6" y1="610.2" x2="630.8" y2="610.2" stroke="#26262c" stroke-width="1.25"/>
<text font-size="16" font-weight="bold" x="618.03" y="615.5" fill="#111">1</text>
<line x1="627.6" y1="639.56" x2="630.8" y2="639.56" stroke="#26262c" stroke-width="1.25"/>
<text font-size="16" font-weight="bold" letter-spacing="0.35" x="605.03" y="644.86" fill="#111">0.8</text>
<line x1="627.6" y1="668.92" x2="630.8" y2="668.92" stroke="#26262c" stroke-width="1.25"/>
<text font-size="16" font-weight="bold" letter-spacing="0.35" x="604.97" y="674.22" fill="#111">0.6</text>
<line x1="627.6" y1="698.28" x2="630.8" y2="698.28" stroke="#26262c" stroke-width="1.25"/>
<text font-size="16" font-weight="bold" letter-spacing="0.35" x="604.8" y="703.58" fill="#111">0.4</text>
<line x1="627.6" y1="727.64" x2="630.8" y2="727.64" stroke="#26262c" stroke-width="1.25"/>
<text font-size="16" font-weight="bold" letter-spacing="0.35" x="605.19" y="732.94" fill="#111">0.2</text>
<line x1="627.6" y1="757" x2="630.8" y2="757" stroke="#26262c" stroke-width="1.25"/>
<text font-size="16" font-weight="bold" x="617.81" y="762.3" fill="#111">0</text>
<text transform="translate(583.2,734.89) rotate(-90)" font-size="22.8" font-weight="bold" letter-spacing="1" fill="#231f20">probality</text>
<text x="603.79" y="578.8" font-size="22.8" font-weight="bold" fill="#231f20" letter-spacing="1.16">φ=<tspan font-weight="normal">0.</tspan>101</text>
<text x="698.49" y="578.8" font-size="22.8" font-weight="bold" fill="#231f20" letter-spacing="1.16">φ=<tspan font-weight="normal">0.</tspan>101</text>
<text font-size="22.34" font-weight="bold" transform="translate(698.19,571.25) scale(1.19,1)" fill="#231f20">~</text>
</g>
</g><g id="panel-j">
<text font-size="33" font-weight="bold" x="812.67" y="576.5" fill="#231f20">j</text>
<g>
<rect x="896.7" y="609.8" width="23.5" height="24.29" fill="#0873b4"/>
<rect x="896.7" y="634.09" width="23.5" height="122.91" fill="#80af4a" stroke="#3d5a2a" stroke-width="0.4"/>
<path d="M903.45,629.23H913.45M903.45,638.95H913.45M908.45,629.23V638.95" stroke="#f3f6a8" stroke-width="1" fill="none"/>
<text font-size="16.6" font-weight="bold" x="903.26" y="781.4" fill="#2a2a2a">1</text>
<rect x="943.15" y="609.8" width="23.5" height="38.12" fill="#0873b4"/>
<rect x="943.15" y="647.92" width="23.5" height="109.08" fill="#80af4a" stroke="#3d5a2a" stroke-width="0.4"/>
<path d="M949.9,643.66H959.9M949.9,652.19H959.9M954.9,643.66V652.19" stroke="#f3f6a8" stroke-width="1" fill="none"/>
<text font-size="16.6" font-weight="bold" x="949.96" y="781.4" fill="#2a2a2a">2</text>
<rect x="989.6" y="609.8" width="23.5" height="124.24" fill="#0873b4"/>
<rect x="989.6" y="734.04" width="23.5" height="22.96" fill="#80af4a" stroke="#3d5a2a" stroke-width="0.4"/>
<path d="M996.35,728.44H1006.35M996.35,739.63H1006.35M1001.35,728.44V739.63" stroke="#f3f6a8" stroke-width="1" fill="none"/>
<text font-size="16.6" font-weight="bold" x="996.37" y="781.4" fill="#2a2a2a">3</text>
<rect x="885" y="609.8" width="139.8" height="147.2" fill="none" stroke="#26262c" stroke-width="1.25"/>
<line x1="881.8" y1="609.8" x2="885" y2="609.8" stroke="#26262c" stroke-width="1.25"/>
<text font-size="16" font-weight="bold" x="872.23" y="615.1" fill="#111">1</text>
<line x1="881.8" y1="639.24" x2="885" y2="639.24" stroke="#26262c" stroke-width="1.25"/>
<text font-size="16" font-weight="bold" letter-spacing="0.35" x="859.23" y="644.54" fill="#111">0.8</text>
<line x1="881.8" y1="668.68" x2="885" y2="668.68" stroke="#26262c" stroke-width="1.25"/>
<text font-size="16" font-weight="bold" letter-spacing="0.35" x="859.17" y="673.98" fill="#111">0.6</text>
<line x1="881.8" y1="698.12" x2="885" y2="698.12" stroke="#26262c" stroke-width="1.25"/>
<text font-size="16" font-weight="bold" letter-spacing="0.35" x="859" y="703.42" fill="#111">0.4</text>
<line x1="881.8" y1="727.56" x2="885" y2="727.56" stroke="#26262c" stroke-width="1.25"/>
<text font-size="16" font-weight="bold" letter-spacing="0.35" x="859.39" y="732.86" fill="#111">0.2</text>
<line x1="881.8" y1="757" x2="885" y2="757" stroke="#26262c" stroke-width="1.25"/>
<text font-size="16" font-weight="bold" x="872.01" y="762.3" fill="#111">0</text>
<text x="857.69" y="578.6" font-size="22.8" font-weight="bold" fill="#231f20" letter-spacing="1.11">φ=<tspan font-weight="normal">0.</tspan>110</text>
<text x="952.59" y="578.6" font-size="22.8" font-weight="bold" fill="#231f20" letter-spacing="1.11">φ=<tspan font-weight="normal">0.</tspan>110</text>
<text font-size="22.34" font-weight="bold" transform="translate(952.29,571.05) scale(1.19,1)" fill="#231f20">~</text>
</g>
</g>
</svg>
</body>
</html>
